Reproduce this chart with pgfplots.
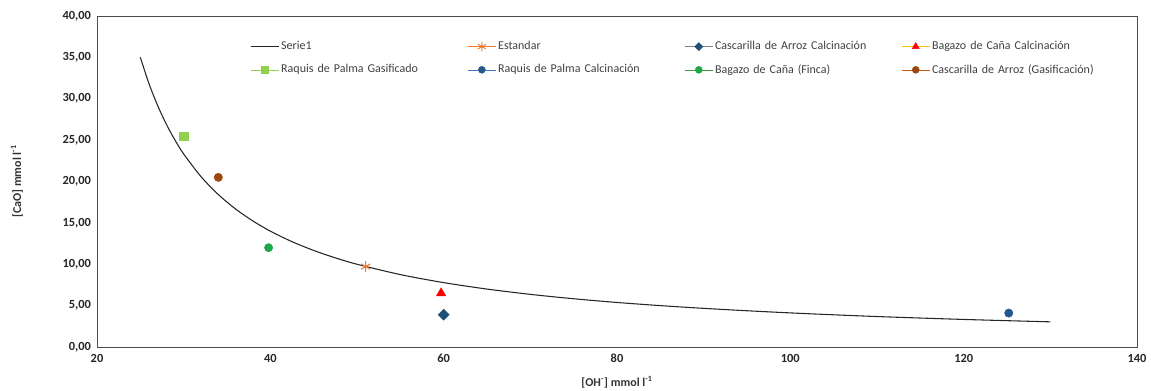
\documentclass[border=0pt]{standalone}
\usepackage{fontspec}
\setmainfont{Carlito}
\usepackage{pgfplots}
\pgfplotsset{compat=1.18}

\definecolor{estorange}{HTML}{ED7D31}
\definecolor{navy}{HTML}{1F4E79}
\definecolor{amber}{HTML}{FFC000}
\definecolor{lgreen}{HTML}{92D050}
\definecolor{mblue}{HTML}{4472C4}
\definecolor{dblue}{HTML}{24598F}
\definecolor{fgreen}{HTML}{3A9D3A}
\definecolor{mgreen}{HTML}{1EA84A}
\definecolor{rust}{HTML}{C55A11}
\definecolor{brown}{HTML}{9E460E}

\begin{document}
\begin{tikzpicture}
\begin{axis}[
  scale only axis,
  width=780pt, height=248.25pt,
  xmin=20, xmax=140, ymin=0, ymax=40,
  xtick={20,40,...,140}, ytick={0,5,...,40},
  major tick length=0pt,
  axis line style={black!70, line width=0.6pt},
  font=\fontsize{9}{11}\selectfont,
  tick label style={font=\fontsize{9.3}{11}\selectfont\bfseries, text=black!85},
  /pgf/number format/assume math mode=true,
  yticklabel style={/pgf/number format/.cd, fixed, fixed zerofill, precision=2, use comma},
  xticklabel style={/pgf/number format/.cd, fixed, 1000 sep={}},
  xticklabel shift=2pt,
  yticklabel shift=1pt,
  xlabel={[OH\textsuperscript{-}] mmol l\textsuperscript{-1}},
  ylabel={[CaO] mmol l\textsuperscript{-1}},
  xlabel style={font=\fontsize{9}{11}\selectfont\bfseries, text=black!80, at={(axis description cs:0.5,-0.106)}, anchor=center},
  ylabel style={font=\fontsize{9}{11}\selectfont\bfseries, text=black!80, at={(axis description cs:-0.077,0.5)}, anchor=center, rotate=0},
  legend columns=4,
  legend cell align=left,
  legend image code/.code={\draw[mark repeat=2,mark phase=2,#1] plot coordinates {(0pt,0pt) (10.5pt,0pt) (21pt,0pt)};},
  legend style={at={(axis description cs:0.147,0.93)}, anchor=north west,
    draw=none, fill=none, inner sep=0pt,
    font=\fontsize{9}{11}\selectfont, text=black!75,
    nodes={text width=138.3pt, inner sep=1.5pt},
    /tikz/row sep=6.5pt},
]
% solubility reference curve
\addplot[black!85, line width=0.8pt, smooth] coordinates {
 (25,35.00) (26,31.82) (27,29.17) (28,26.92) (29,25.00) (30,23.33)
 (32,20.59) (34,18.42) (36,16.67) (38,15.22) (40,14.00) (42.5,12.73)
 (45,11.67) (47.5,10.77) (50,10.00) (55,8.75) (60,7.78) (65,7.00)
 (70,6.36) (75,5.83) (80,5.38) (85,5.00) (90,4.67) (95,4.38)
 (100,4.12) (105,3.89) (110,3.68) (115,3.50) (120,3.33) (125,3.18) (130,3.04)};
\addlegendentry{Serie1}

\addlegendimage{estorange, mark=asterisk, mark size=3.5pt, mark options={solid, line width=0.7pt}}
\addlegendentry{Estandar}
\addplot[only marks, forget plot, mark=asterisk, mark size=4pt, mark options={estorange, line width=0.8pt}] coordinates {(51,9.72)};

\addlegendimage{black!50, mark=square*, mark size=2.1pt, mark options={solid, rotate=45, fill=navy, draw=navy}}
\addlegendentry{Cascarilla de Arroz Calcinación}
\addplot[only marks, forget plot, mark=square*, mark size=2.9pt, mark options={rotate=45, fill=navy, draw=navy}] coordinates {(60,3.90)};

\addlegendimage{amber, mark=triangle*, mark size=3pt, mark options={solid, fill=red, draw=red}}
\addlegendentry{Bagazo de Caña Calcinación}
\addplot[only marks, forget plot, mark=triangle*, mark size=4pt, mark options={fill=red, draw=red}] coordinates {(59.7,6.50)};

\addlegendimage{lgreen, mark=square*, mark size=2.6pt, mark options={solid, fill=lgreen, draw=lgreen}}
\addlegendentry{Raquis de Palma Gasificado}
\addplot[only marks, forget plot, mark=square*, mark size=3.1pt, mark options={fill=lgreen, draw=lgreen}] coordinates {(30,25.50)};

\addlegendimage{mblue, mark=*, mark size=2.6pt, mark options={solid, fill=dblue, draw=dblue}}
\addlegendentry{Raquis de Palma Calcinación}
\addplot[only marks, forget plot, mark=*, mark size=3.1pt, mark options={fill=dblue, draw=dblue}] coordinates {(125.2,4.10)};

\addlegendimage{fgreen, mark=*, mark size=2.6pt, mark options={solid, fill=mgreen, draw=mgreen}}
\addlegendentry{Bagazo de Caña (Finca)}
\addplot[only marks, forget plot, mark=*, mark size=3.1pt, mark options={fill=mgreen, draw=mgreen}] coordinates {(39.8,12.00)};

\addlegendimage{rust, mark=*, mark size=2.6pt, mark options={solid, fill=brown, draw=brown}}
\addlegendentry{Cascarilla de Arroz (Gasificación)}
\addplot[only marks, forget plot, mark=*, mark size=3.1pt, mark options={fill=brown, draw=brown}] coordinates {(34,20.50)};
\end{axis}
\pgfresetboundingbox
\path ([shift={(-72.75pt,-33pt)}]current axis.south west) rectangle ([shift={(10.5pt,12pt)}]current axis.north east);
\end{tikzpicture}
\end{document}
